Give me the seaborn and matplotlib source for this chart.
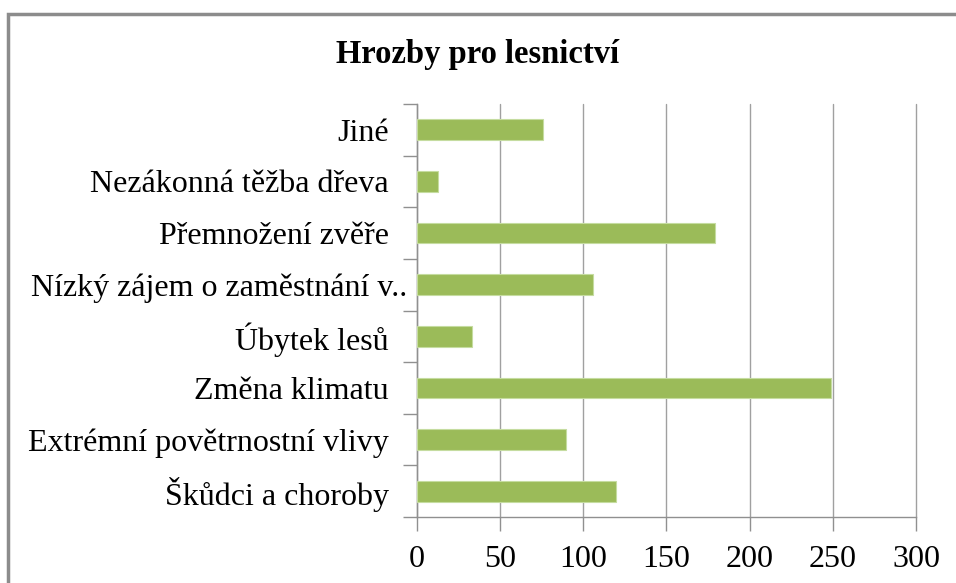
import matplotlib
matplotlib.use("Agg")
import matplotlib.pyplot as plt
import matplotlib.transforms as mtransforms
import seaborn as sns
import pandas as pd
from matplotlib.patches import Rectangle

sns.set_style("white")
plt.rcParams['font.family'] = ['Liberation Serif', 'DejaVu Serif']
plt.rcParams['text.color'] = 'black'
plt.rcParams['xtick.color'] = '#909090'
plt.rcParams['ytick.color'] = '#909090'
plt.rcParams['xtick.labelcolor'] = 'black'
plt.rcParams['ytick.labelcolor'] = 'black'

# categories top to bottom as shown
categories = ["Jiné", "Nezákonná těžba dřeva", "Přemnožení zvěře",
              "Nízký zájem o zaměstnání v..", "Úbytek lesů", "Změna klimatu",
              "Extrémní povětrnostní vlivy", "Škůdci a choroby"]
counts = [76, 13, 179, 106, 33, 249, 90, 120]
xticks = [0, 50, 100, 150, 200, 250, 300]

df = pd.DataFrame({'kategorie': categories, 'pocet': counts})

fig = plt.figure(figsize=(9.56, 5.83), dpi=100)
ax = fig.add_axes([416.7 / 956, 1 - 517 / 583, (916 - 416.7) / 956, (517 - 104) / 583])

sns.barplot(data=df, x='pocet', y='kategorie', orient='h', color='#9BBB59',
            saturation=1, width=0.4, ax=ax, edgecolor='#c5dca0', linewidth=0.8,
            zorder=3)

ax.set_xlim(0, 300)
ax.set_xticks(xticks)
ax.set_xticklabels([str(t) for t in xticks], fontsize=23)
ax.set_ylim(len(categories) - 0.5, -0.5)
ax.set_yticks([i - 0.5 for i in range(len(categories) + 1)], minor=True)
ax.set_yticks(range(len(categories)))
ax.set_yticklabels(categories, fontsize=23)
ax.tick_params(left=True, bottom=True, which='both')
ax.tick_params(axis='y', which='major', length=0, pad=20)
ax.tick_params(axis='y', which='minor', length=10, width=1)
ax.tick_params(axis='x', length=10, width=1, pad=10)
ax.set_xlabel('')
ax.set_ylabel('')

# the truncated label sits a bit further right, as in the original
long_lbl = ax.get_yticklabels()[3]
long_lbl.set_transform(long_lbl.get_transform()
                       + mtransforms.ScaledTranslation(0.18, 0, fig.dpi_scale_trans))

ax.grid(axis='x', color='#a0a0a0', linewidth=1, zorder=0)
for gl in ax.xaxis.get_gridlines():
    gl.set_clip_on(False)
ax.set_axisbelow(True)
for side in ['top', 'right']:
    ax.spines[side].set_visible(False)
for side in ['left', 'bottom']:
    ax.spines[side].set_color('#909090')
    ax.spines[side].set_linewidth(1)

fig.text(0.5, 1 - 55 / 583, "Hrozby pro lesnictví", ha='center', va='center',
         fontsize=23.5, fontweight='bold')

# outer chart frame
fig.patches.append(Rectangle((8 / 956, -0.1), 1.2, 1.1 - 14 / 583,
                             transform=fig.transFigure, fill=False,
                             edgecolor='#8c8c8c', linewidth=2.5))

fig.savefig('out.png', dpi=100)
